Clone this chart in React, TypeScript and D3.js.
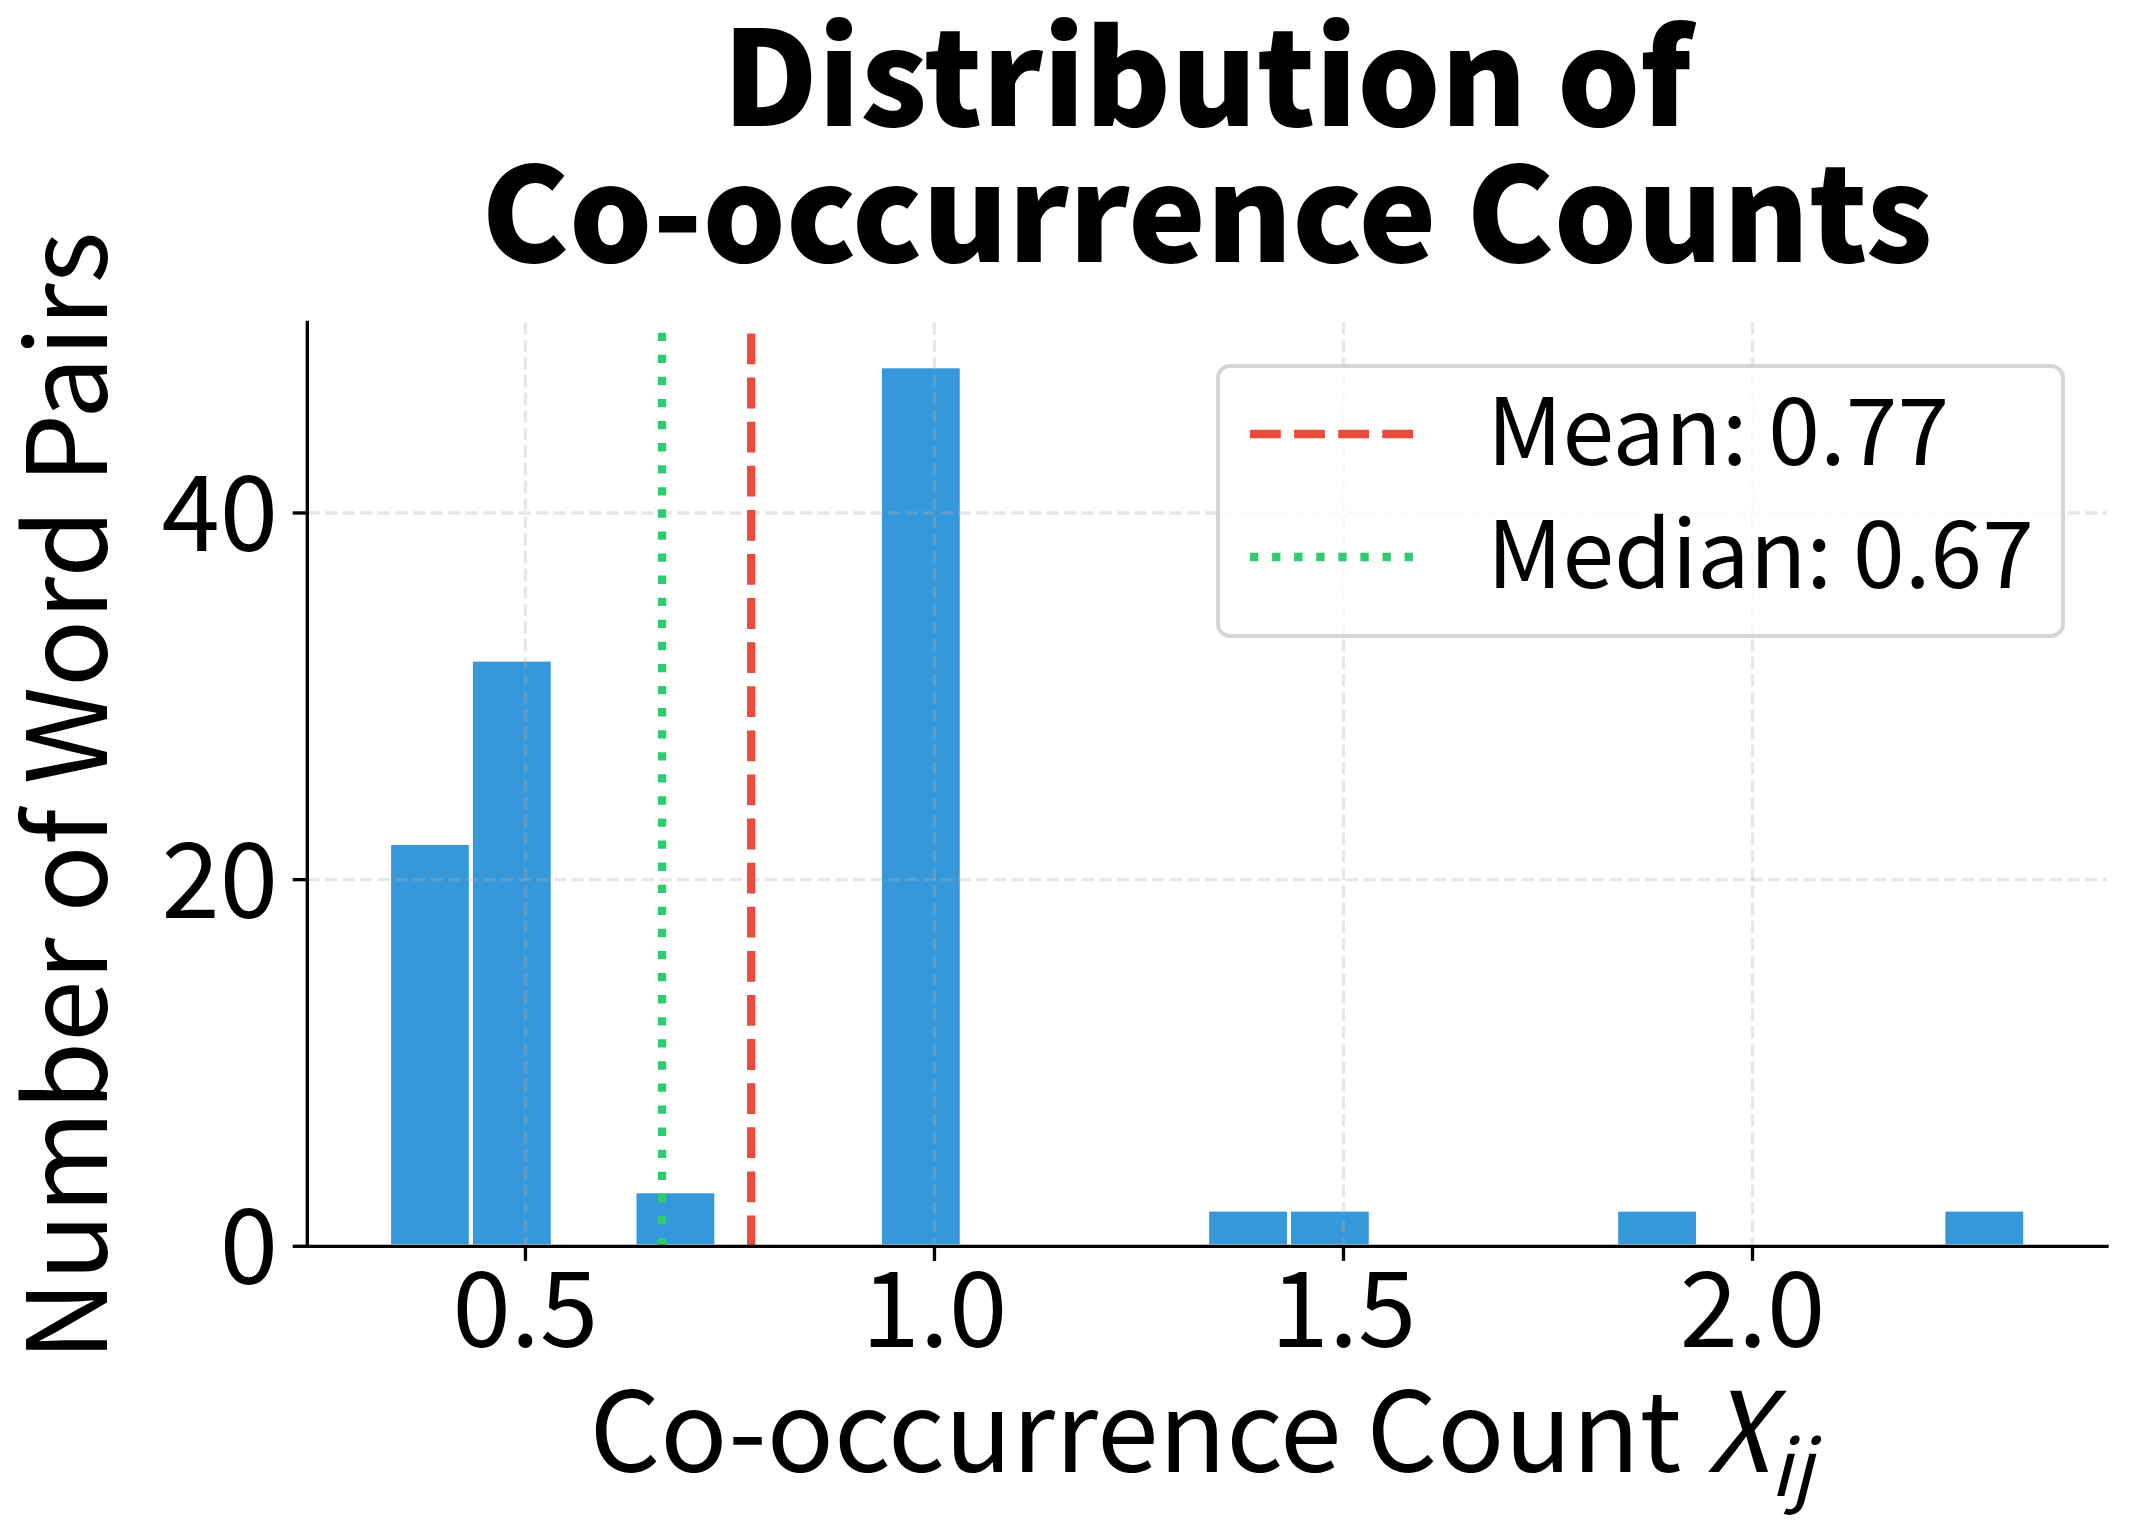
import * as d3 from "d3";
import React, { useEffect, useRef } from "react";

// histogram bin counts (20 equal bins from min to max)
const binCounts = [22, 32, 0, 3, 0, 0, 48, 0, 0, 0, 2, 2, 0, 0, 0, 2, 0, 0, 0, 2];
const dataMin = 1 / 3;
const dataMax = 7 / 3;
const meanValue = 0.776;
const medianValue = 0.667;
const xTicks = [0.5, 1.0, 1.5, 2.0];
const yTicks = [0, 20, 40];
const legendItems = [
  { label: "Mean: 0.77", color: "#e74c3c", dash: "30.8,13.3" },
  { label: "Median: 0.67", color: "#2ecc71", dash: "8.33,13.75" },
];

const FONT = "'Noto Sans CJK JP', 'Noto Sans', sans-serif";

export default function App() {
  const chartRef = useRef<SVGSVGElement | null>(null);

  useEffect(() => {
    const W = 2134;
    const H = 1534;
    const margin = { top: 322.3, left: 307.3, right: W - 2107, bottom: H - 1246.3 };
    const width = W - margin.left - margin.right;
    const height = H - margin.top - margin.bottom;

    const svg = d3.select(chartRef.current);
    svg.selectAll("*").remove();
    svg.attr("width", W).attr("height", H).attr("viewBox", `0 0 ${W} ${H}`);
    svg.append("rect").attr("width", W).attr("height", H).attr("fill", "#fff");

    const binW = (dataMax - dataMin) / binCounts.length;
    const bins = binCounts.map((c, i) => ({ x0: dataMin + i * binW, x1: dataMin + (i + 1) * binW, count: c }));
    const pad = (dataMax - dataMin) * 0.05;

    const x = d3.scaleLinear().domain([dataMin - pad, dataMax + pad]).range([0, width]);
    const y = d3.scaleLinear().domain([0, d3.max(binCounts)! * 1.05]).range([height, 0]);

    const main = svg.append("g").attr("transform", `translate(${margin.left},${margin.top})`);

    // bars
    main
      .selectAll("rect.bar")
      .data(bins.filter((b) => b.count > 0))
      .join("rect")
      .attr("class", "bar")
      .attr("x", (d) => x(d.x0))
      .attr("width", (d) => x(d.x1) - x(d.x0))
      .attr("y", (d) => y(d.count))
      .attr("height", (d) => y(0) - y(d.count))
      .attr("fill", "#3498db")
      .attr("stroke", "#fff")
      .attr("stroke-width", 4);

    // grid (drawn above bars like matplotlib)
    const grid = main.append("g").attr("stroke", "#b0b0b0").attr("stroke-opacity", 0.3)
      .attr("stroke-width", 3.33).attr("stroke-dasharray", "12.3,5.3");
    xTicks.forEach((t) => {
      grid.append("line").attr("x1", x(t)).attr("x2", x(t)).attr("y1", 0).attr("y2", height);
    });
    yTicks.forEach((t) => {
      grid.append("line").attr("x1", 0).attr("x2", width).attr("y1", y(t)).attr("y2", y(t));
    });

    // mean / median lines (dash pattern starts at the bottom)
    const refLines = [meanValue, medianValue];
    refLines.forEach((v, i) => {
      main
        .append("line")
        .attr("x1", x(v))
        .attr("x2", x(v))
        .attr("y1", height)
        .attr("y2", 0)
        .attr("stroke", legendItems[i].color)
        .attr("stroke-width", 8.33)
        .attr("stroke-dasharray", legendItems[i].dash);
    });

    // spines
    main.append("line").attr("x1", 0).attr("x2", 0).attr("y1", 0).attr("y2", height)
      .attr("stroke", "#000").attr("stroke-width", 3.33).attr("stroke-linecap", "square");
    main.append("line").attr("x1", 0).attr("x2", width).attr("y1", height).attr("y2", height)
      .attr("stroke", "#000").attr("stroke-width", 3.33).attr("stroke-linecap", "square");

    // ticks
    const tickLen = 14.6;
    xTicks.forEach((t) => {
      main.append("line").attr("x1", x(t)).attr("x2", x(t)).attr("y1", height).attr("y2", height + tickLen)
        .attr("stroke", "#000").attr("stroke-width", 3.33);
      main.append("text").attr("x", x(t)).attr("y", height + 101).attr("text-anchor", "middle")
        .attr("font-family", FONT).attr("font-size", 105).text(d3.format(".1f")(t));
    });
    yTicks.forEach((t) => {
      main.append("line").attr("x1", -tickLen).attr("x2", 0).attr("y1", y(t)).attr("y2", y(t))
        .attr("stroke", "#000").attr("stroke-width", 3.33);
      main.append("text").attr("x", -29.3).attr("y", y(t) + 38).attr("text-anchor", "end")
        .attr("font-family", FONT).attr("font-size", 105).text(String(t));
    });

    // legend
    const lg = svg.append("g");
    lg.append("rect").attr("x", 1218).attr("y", 366).attr("width", 845).attr("height", 270).attr("rx", 12)
      .attr("fill", "#fff").attr("fill-opacity", 0.8).attr("stroke", "#cccccc").attr("stroke-opacity", 0.8)
      .attr("stroke-width", 4);
    legendItems.forEach((it, i) => {
      const cy = 434 + i * 123;
      lg.append("line").attr("x1", 1250).attr("x2", 1415).attr("y1", cy).attr("y2", cy)
        .attr("stroke", it.color).attr("stroke-width", 8.33).attr("stroke-dasharray", it.dash);
      lg.append("text").attr("x", 1487).attr("y", cy + 31).attr("font-family", FONT)
        .attr("font-size", 93).text(it.label);
    });

    // axis labels
    const xl = svg.append("text").attr("x", margin.left + width / 2 - 6).attr("y", 1472)
      .attr("text-anchor", "middle").attr("font-family", FONT).attr("font-size", 111);
    xl.append("tspan").text("Co-occurrence Count ");
    xl.append("tspan").attr("font-style", "italic").text("X");
    xl.append("tspan").attr("font-style", "italic").attr("font-size", 78).attr("dy", 24).text("ij");

    svg.append("text").attr("transform", `translate(107,${margin.top + height / 2 + 12}) rotate(-90)`)
      .attr("text-anchor", "middle").attr("font-family", FONT).attr("font-size", 111)
      .text("Number of Word Pairs");

    // title
    const titleLines = ["Distribution of", "Co-occurrence Counts"];
    titleLines.forEach((t, i) => {
      svg.append("text").attr("x", margin.left + width / 2).attr("y", 126 + i * 136)
        .attr("text-anchor", "middle").attr("font-family", FONT).attr("font-weight", 900)
        .attr("font-size", 131).text(t);
    });
  }, []);

  return (
    <div style={{ position: "absolute", left: 0, top: 0 }}>
      <svg ref={chartRef}></svg>
    </div>
  );
}
